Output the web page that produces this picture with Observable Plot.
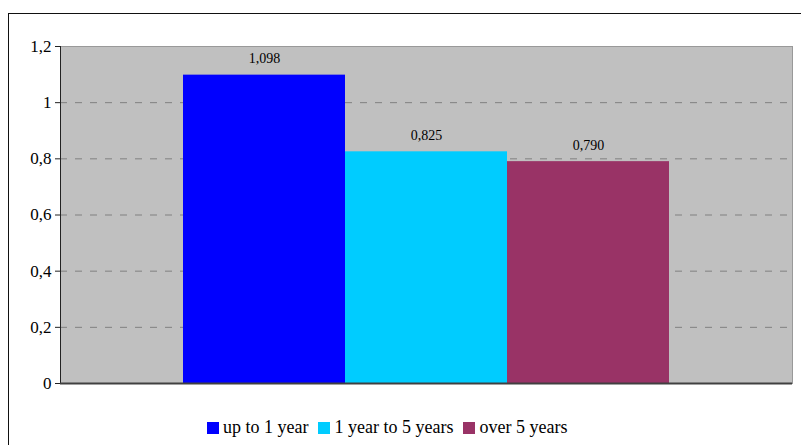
<!DOCTYPE html>
<html>
<head>
<meta charset="utf-8">
<script src="https://cdn.jsdelivr.net/npm/d3@7"></script>
<script src="https://cdn.jsdelivr.net/npm/@observablehq/plot@0.6"></script>
<style>
  html, body { margin: 0; padding: 0; background: #fff; }
  #wrap { position: relative; width: 801px; height: 445px; overflow: hidden; background: #fff; font-family: 'Liberation Serif', 'DejaVu Serif', serif; }
  #border { position: absolute; left: 8px; top: 13px; width: 900px; height: 600px; border: 1.5px solid #111; box-sizing: border-box; pointer-events: none; }
  #legend { position: absolute; left: 207px; top: 417px; display: flex; align-items: center; font-size: 18px; color: #000; white-space: nowrap; font-family: 'Liberation Serif', 'DejaVu Serif', serif; }
  .item { display: flex; align-items: center; margin-right: 10px; }
  .sw { width: 12px; height: 12px; margin-right: 4px; }
  svg text { font-family: 'Liberation Serif', 'DejaVu Serif', serif !important; }
</style>
</head>
<body>
<div id="wrap"><div id="border"></div><div id="legend"></div></div>
<script>
const series = ["up to 1 year", "1 year to 5 years", "over 5 years"];
const values = [1.098, 0.825, 0.790];
const colors = ["#0000FF", "#00CCFF", "#993366"];
const yTicks = [0, 0.2, 0.4, 0.6, 0.8, 1.0, 1.2];
const gridTicks = [0.2, 0.4, 0.6, 0.8, 1.0];

const data = series.map((s, i) => ({series: s, value: values[i]}));
const comma = (v, digits) => (digits == null ? String(+v.toFixed(1)) : v.toFixed(digits)).replace(".", ",");
const serif = "'Liberation Serif', 'DejaVu Serif', serif";

const chart = Plot.plot({
  width: 801,
  height: 445,
  marginLeft: 60,
  marginRight: 9,
  marginTop: 46,
  marginBottom: 62,
  style: {background: "transparent", fontFamily: serif, fontSize: "17px", color: "#000"},
  x: {domain: series, paddingInner: 0, paddingOuter: 0.75, axis: null},
  y: {domain: [0, 1.2], ticks: yTicks, tickFormat: d => comma(d), label: null, tickSize: 5, tickPadding: 4},
  color: {domain: series, range: colors},
  marks: [
    Plot.frame({fill: "#C0C0C0", stroke: "#999999"}),
    Plot.ruleY(gridTicks, {stroke: "#808080", strokeDasharray: "7,8"}),
    Plot.barY(data, {x: "series", y: "value", fill: "series"}),
    Plot.text(data, {x: "series", y: "value", text: d => comma(d.value, 3), dy: -12, lineAnchor: "bottom", fontSize: 14, fontFamily: serif, fill: "#000"}),
    Plot.frame({anchor: "left", stroke: "#222"}),
    Plot.ruleY([0], {stroke: "#404040", strokeWidth: 2}),
    Plot.axisY({ticks: yTicks, tickFormat: d => comma(d), tickSize: 5, tickPadding: 4, stroke: "#222", fontSize: 17, fontFamily: serif, label: null})
  ]
});
const wrap = document.getElementById("wrap");
chart.style.position = "absolute";
chart.style.left = "0px";
chart.style.top = "0px";
wrap.insertBefore(chart, wrap.firstChild);

const legend = document.getElementById("legend");
series.forEach((s, i) => {
  const it = document.createElement("div");
  it.className = "item";
  const sw = document.createElement("div");
  sw.className = "sw";
  sw.style.background = colors[i];
  const t = document.createElement("span");
  t.textContent = s;
  it.appendChild(sw);
  it.appendChild(t);
  legend.appendChild(it);
});
</script>
</body>
</html>
